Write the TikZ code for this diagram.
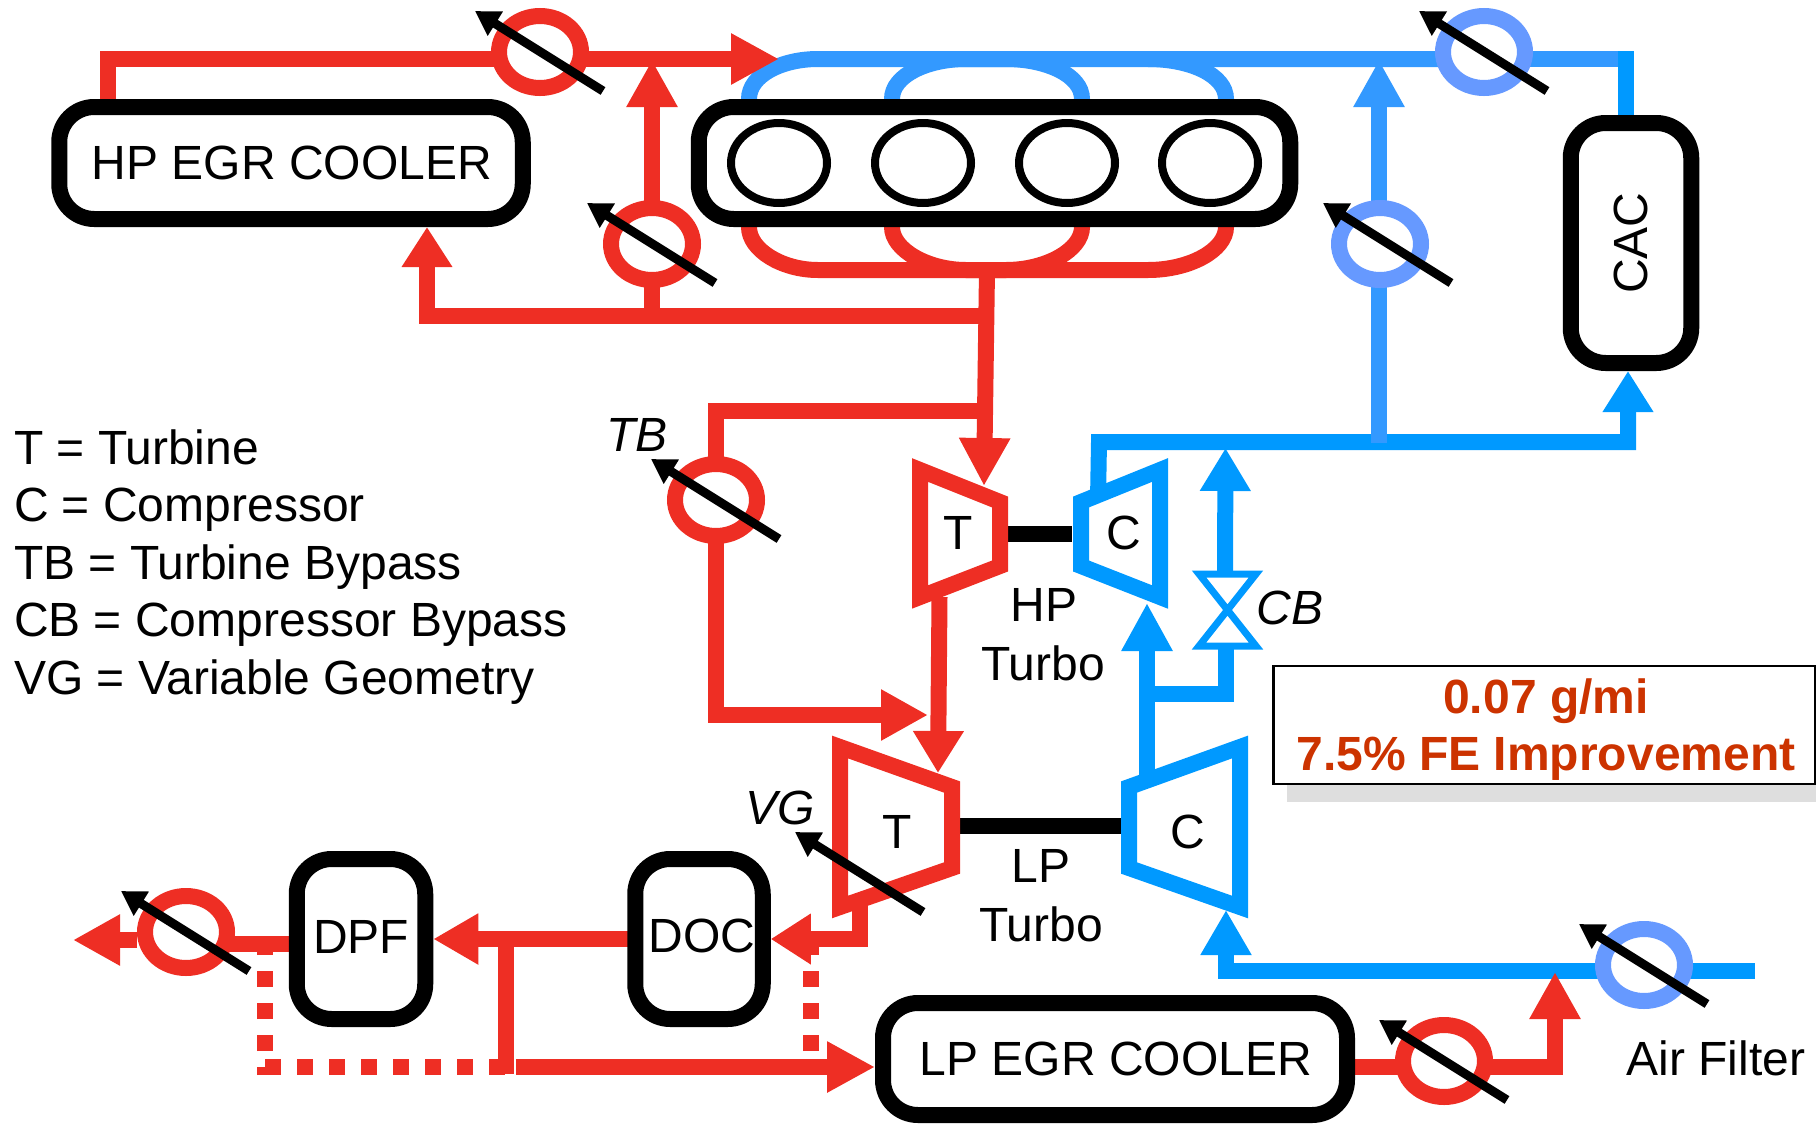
\documentclass[tikz,border=0pt]{standalone}
\usepackage{fontspec}
\setmainfont{Liberation Sans}
\usetikzlibrary{arrows.meta,shapes.geometric,calc}
\pgfdeclarelayer{bg}
\pgfsetlayers{bg,main}
\definecolor{egr}{HTML}{EE2E24}
\definecolor{air}{HTML}{0099FF}
\definecolor{airb}{HTML}{3399FF}
\definecolor{vblue}{HTML}{6699FF}
\definecolor{note}{HTML}{CC3300}
\newcommand\valvearrow[1]{\draw[handle] ([shift={(63,39)}]#1) -- ([shift={(-65,-41)}]#1);}
\tikzset{
  x=1pt,y=-1pt,
  txt/.style={font=\fontsize{48}{57}\selectfont,inner sep=0pt,outer sep=0pt,text=black},
  unit/.style={draw=black,line width=16pt,rounded corners=35pt,inner sep=0pt,outer sep=0pt,fill=white,txt},
  cyl/.style={draw=black,ellipse,line width=8pt,inner sep=0pt,outer sep=0pt,minimum width=96pt,minimum height=80pt},
  valve/.style={ellipse,line width=16pt,inner sep=0pt,outer sep=0pt,fill=white,minimum width=82pt,minimum height=72pt},
  rv/.style={valve,draw=egr},
  bv/.style={valve,draw=vblue},
  handle/.style={line width=9pt,black,-{Triangle[length=24pt,width=27pt]}},
  pipe/.style={line width=16pt,line join=miter,line cap=butt},
  rp/.style={pipe,draw=egr},
  ap/.style={pipe,draw=air},
  bp/.style={pipe,draw=airb},
  hd/.style={-{Triangle[length=#1,width=48pt]}},
  hd/.default=48pt,
  tobox/.style={shorten >=8pt},
  redash/.style={rp,dash pattern=on 16pt off 16pt},
  turb/.style={line width=16pt,line join=miter,draw=egr},
  comp/.style={line width=16pt,line join=miter,draw=air},
  shaft/.style={line width=16pt,draw=black},
}
\begin{document}
\begin{tikzpicture}
\useasboundingbox (0,0) rectangle (1816,1125);

% units
\node[unit,minimum width=463.5pt,minimum height=112pt] (hpc) at (291,163) {\raisebox{-1pt}{\hspace*{2pt}HP EGR COOLER}};
\node[unit,minimum width=591.5pt,minimum height=112pt] (eng) at (994.5,163) {};
\node[unit,minimum width=120.5pt,minimum height=240pt] (cac) at (1631,243) {\rotatebox{90}{CAC}};
\node[unit,minimum width=128.5pt,minimum height=160pt] (dpf) at (361,939) {\raisebox{5pt}{DPF}};
\node[unit,minimum width=127.5pt,minimum height=160pt] (doc) at (699,939) {\raisebox{6pt}{\hspace*{6pt}DOC}};
\node[unit,minimum width=464pt,minimum height=112pt] (lpc) at (1115,1059) {\raisebox{-1pt}{\hspace*{2pt}LP EGR COOLER}};
\node[cyl] (c1) at (779,163) {};
\node[cyl] (c2) at (923,163) {};
\node[cyl] (c3) at (1067,163) {};
\node[cyl] (c4) at (1210,163) {};

% valves
\node[rv] (v1) at (540,52) {};
\node[rv] (v2) at (652,244) {};
\node[bv] (v3) at (1484,52) {};
\node[bv] (v4) at (1380,244) {};
\node[rv] (vtb) at (716,500) {};
\node[rv] (vex) at (186,932) {};
\node[rv] (vlp) at (1444,1061) {};
\node[bv] (vaf) at (1644,965) {};

% turbomachines
\draw[turb] (920,470) -- (1000,502) -- (1000,566) -- (920,597) -- cycle;
\draw[comp] (1160,470) -- (1081,502) -- (1081,566) -- (1160,597) -- cycle;
\draw[turb] (840,747) -- (952,787) -- (952,868) -- (840,907) -- cycle;
\draw[comp] (1240,747) -- (1129,787) -- (1129,868) -- (1240,907) -- cycle;
\node[txt] (thp) at (958,533) {T};
\node[txt] (chp) at (1124,533) {C};
\node[txt] (tlp) at (897,832) {T};
\node[txt] (clp) at (1188,832) {C};
\node[txt,anchor=base] (hp) at (1044,621) {HP};
\node[txt,anchor=base] (tb1) at (1043,680) {Turbo};
\node[txt,anchor=base] (lp) at (1041,882) {LP};
\node[txt,anchor=base] (tb2) at (1041,941) {Turbo};
\node[txt,anchor=base] (filt) at (1716,1075) {Air Filter};

% italic labels
\node[txt,anchor=base] (ltb) at (637,451) {\itshape TB};
\node[txt,anchor=base] (lcb) at (1290,624) {\itshape CB};
\node[txt,anchor=base] (lvg) at (780,824) {\itshape VG};

% legend
\node[txt,anchor=base west] (l1) at (14,464) {T = Turbine};
\node[txt,anchor=base west] (l2) at (14,521.5) {C = Compressor};
\node[txt,anchor=base west] (l3) at (14,579) {TB = Turbine Bypass};
\node[txt,anchor=base west] (l4) at (14,636.5) {CB = Compressor Bypass};
\node[txt,anchor=base west] (l5) at (14,694) {VG = Variable Geometry};

% result box
\fill[black!13] (1287,784) rectangle (1816,802);
\node[draw=black,line width=2.5pt,fill=white,inner sep=0pt,outer sep=0pt,minimum width=541.5pt,minimum height=118.3pt] (res) at (1544.25,724.9) {};
\node[txt,anchor=base,text=note,font=\fontsize{48}{57}\selectfont\bfseries] (r1) at (1546,713) {0.07 g/mi};
\node[txt,anchor=base,text=note,font=\fontsize{48}{57}\selectfont\bfseries] (r2) at (1546,770) {7.5\% FE Improvement};

% way points
\coordinate (a1) at (108,59);
\coordinate (a2) at (779,59);
\coordinate (j1) at (651,60);
\coordinate (j2) at (427,315.5);
\coordinate (j3) at (987,315.5);
\coordinate (m1) at (987,270);
\coordinate (m2) at (984,486);
\coordinate (j4) at (987,411);
\coordinate (a3) at (928,715);
\coordinate (t1) at (939.5,597);
\coordinate (t2) at (938,773);
\coordinate (t3) at (860,905);
\coordinate (t4) at (860,939);
\coordinate (b1) at (506,939);
\coordinate (b2) at (506,1074);
\coordinate (b3) at (516,1067);
\coordinate (d1) at (265,1067);
\coordinate (d2) at (505,1067);
\coordinate (d3) at (265,1051);
\coordinate (d4) at (265,947);
\coordinate (d5) at (811,1051);
\coordinate (d6) at (811,947);
\coordinate (d7) at (265,1075);
\coordinate (x1) at (289,943.5);
\coordinate (x2) at (137,940);
\coordinate (x3) at (73,940);
\coordinate (e1) at (1355,1067);
\coordinate (e2) at (1555,1067);
\coordinate (e3) at (1555,972);
\coordinate (f1) at (1755,971);
\coordinate (f2) at (1226,971);
\coordinate (f3) at (1226,910);
\coordinate (g1) at (1147,775);
\coordinate (g2) at (1147,603);
\coordinate (g3) at (1147,694);
\coordinate (g4) at (1226,649);
\coordinate (g5) at (1225,571);
\coordinate (g6) at (1225.5,448);
\coordinate (h1) at (1098,500);
\coordinate (h2) at (1099,442);
\coordinate (h3) at (1628,442);
\coordinate (k1) at (1379,443);
\coordinate (k2) at (1379,60);
\coordinate (n1) at (811,59);
\coordinate (n2) at (1626,51);
\coordinate (n3) at (1626,59);
\coordinate (s1) at (1008,534);
\coordinate (s2) at (1072,534);
\coordinate (s3) at (960,826);
\coordinate (s4) at (1122,826);
\coordinate (vgm) at (860,873);
\coordinate (v4a) at (1388,244);

\begin{pgfonlayer}{bg}
  % intake manifold
  \draw[bp] (749,107) -- (749,99) .. controls (749,75) and (782,59) .. (818,59) -- (n1 -| v3.west);
  \draw[bp] (892,107) -- (892,99) .. controls (892,75) and (928,59) .. (966,59) -- (1006,59) .. controls (1046,59) and (1082,75) .. (1082,99) -- (1082,107);
  \draw[bp] (1148,59) .. controls (1190,59) and (1226,75) .. (1226,99) -- (1226,107);
  \draw[bp] (n1 -| v3.east) -- (n3);
  \draw[ap] (n2) -- (n2 |- cac.north);
  % exhaust manifold
  \draw[rp] (749,219) -- (749,227) .. controls (749,250) and (782,270) .. (818,270) -- (1148,270) .. controls (1190,270) and (1226,250) .. (1226,227) -- (1226,219);
  \draw[rp] (892,219) -- (892,227) .. controls (892,250) and (928,270) .. (966,270) -- (1006,270) .. controls (1046,270) and (1082,250) .. (1082,227) -- (1082,219);
  % HP EGR loop
  \draw[rp] (hpc.north -| a1) |- (a1 -| v1.west);
  \draw[rp,hd] (a1 -| v1.east) -- (a2);
  \draw[rp,hd=47pt] (v2.north) -- (v2.north |- j1);
  \draw[rp,hd=40pt,tobox] (j3) -| (hpc.south -| j2);
  \draw[rp] (v2.south) -- (v2.south |- j2);
  % exhaust to turbines
  \draw[rp,hd] (m1) -- (m2);
  \draw[rp] (j4) -| (vtb.north);
  \draw[rp,hd=47pt] (vtb.south) |- (a3);
  \draw[rp,hd=42pt] (t1) -- (t2);
  % aftertreatment
  \draw[rp,hd=40pt,tobox] (t3) |- (doc.east);
  \draw[rp,hd=45pt,tobox] (doc.west) -- (dpf.east);
  \draw[rp] (b1) -- (b2);
  \draw[rp,hd,tobox] (b3) -- (b3 -| lpc.west);
  \draw[redash] (d1) -- (d2);
  \draw[redash] (d3) -- (d4);
  \draw[redash] (d5) -- (d6);
  \draw[rp,dash pattern=on 8pt off 8pt] (d7) -- (d1);
  \draw[rp] (x1) -- (x1 -| vex.east);
  \draw[rp,hd=47pt] (x2) -- (x3);
  % charge air
  \draw[ap] (f1) -- (f1 -| vaf.east);
  \draw[ap,hd=45pt] (f1 -| vaf.west) -| (f3);
  \draw[ap,hd] (g1) -- (g2);
  \draw[ap] (g3) -| (g4);
  \draw[ap,hd=43pt] (g5) -- (g6);
  \draw[ap,hd=41pt,tobox] (h1) -- (h2) -| (cac.south -| h3);
  \draw[bp,hd=47pt] (v4.north -| k2) -- (k2);
  \draw[bp] (k1) -- (v4.south -| k1);
  % LP EGR
  \draw[rp] (e1) -- (e1 -| vlp.west);
  \draw[rp,hd=47pt] (e1 -| vlp.east) -| (e3);
  % shafts
  \draw[shaft] (s1) -- (s2);
  \draw[shaft] (s3) -- (s4);
\end{pgfonlayer}

% compressor bypass valve
\draw[draw=air,line width=7pt,line join=miter] (1199,574) -- (1256,574) -- (1199,646) -- (1256,646) -- cycle;

% actuators
\valvearrow{v1.center}
\valvearrow{v2.center}
\valvearrow{v3.center}
\valvearrow{v4a}
\valvearrow{vtb.center}
\valvearrow{vex.center}
\valvearrow{vlp.center}
\valvearrow{vaf.center}
\valvearrow{vgm}
\end{tikzpicture}
\end{document}
